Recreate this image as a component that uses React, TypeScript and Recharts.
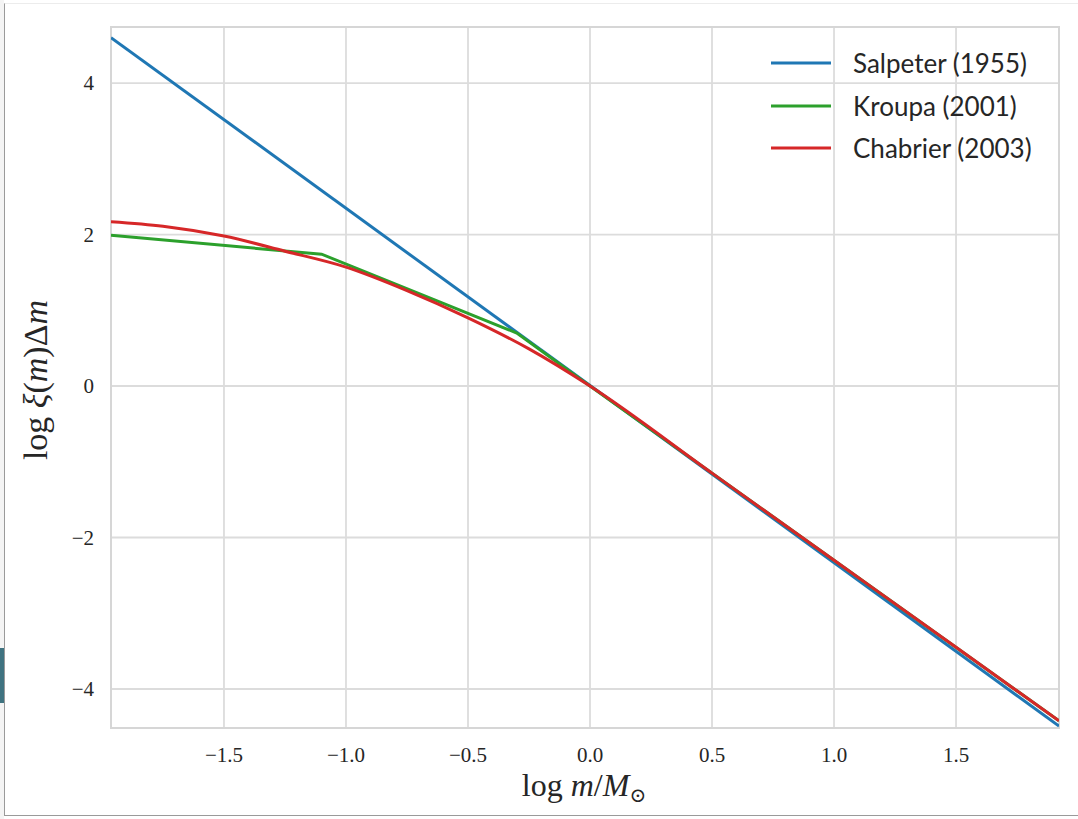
import React from "react";
import {
  LineChart,
  Line,
  XAxis,
  YAxis,
  CartesianGrid,
  Legend,
  ReferenceArea,
} from "recharts";

// axes
const xTicks = [-1.5, -1.0, -0.5, 0.0, 0.5, 1.0, 1.5];
const yTicks = [-4, -2, 0, 2, 4];
const xDomain = [-1.963, 1.922];
const yDomain = [-4.515, 4.74];

// Salpeter (1955)
const salpeterLogM = [-1.963, 1.922];
const salpeterLogXi = [4.6, -4.49];

// Kroupa (2001)
const kroupaLogM = [-1.963, -1.1, -0.3, 0.0, 1.922];
const kroupaLogXi = [1.99, 1.74, 0.7, 0.0, -4.42];

// Chabrier (2003)
const chabrierLogM = [-1.963, -1.75, -1.5, -1.25, -1.0, -0.75, -0.5, -0.25, 0.0, 0.5, 1.0, 1.5, 1.922];
const chabrierLogXi = [2.17, 2.11, 1.98, 1.78, 1.57, 1.26, 0.9, 0.49, 0.0, -1.15, -2.3, -3.45, -4.42];

const series = [
  { name: "Salpeter (1955)", color: "#1f77b4", x: salpeterLogM, y: salpeterLogXi, type: "linear" },
  { name: "Kroupa (2001)", color: "#2ca02c", x: kroupaLogM, y: kroupaLogXi, type: "linear" },
  { name: "Chabrier (2003)", color: "#d62728", x: chabrierLogM, y: chabrierLogXi, type: "monotone" },
];

const toRows = (xs: number[], ys: number[]) => xs.map((x, i) => ({ logm: x, v: ys[i] }));

const minus = (s: string) => s.replace("-", "\u2212");

const serif = "'Liberation Serif', 'DejaVu Serif', serif";
const sans = "Lato, 'Noto Sans', sans-serif";
const ink = "#262626";

const XTick = (props: any) => {
  const { x, y, payload } = props;
  return (
    <text x={x} y={y + 34} textAnchor="middle" fontFamily={serif} fontSize={21} fill={ink}>
      {minus(Number(payload.value).toFixed(1))}
    </text>
  );
};

const YTick = (props: any) => {
  const { x, y, payload } = props;
  return (
    <text x={x - 17} y={y + 7} textAnchor="end" fontFamily={serif} fontSize={21} fill={ink}>
      {minus(String(payload.value))}
    </text>
  );
};

const LegendBox = () => (
  <div style={{ fontFamily: sans, fontSize: 26, color: ink }}>
    {series.map((s) => (
      <div key={s.name} style={{ display: "flex", alignItems: "center", height: 42.5 }}>
        <svg width={60} height={6} style={{ marginRight: 22 }}>
          <line x1={0} y1={3} x2={60} y2={3} stroke={s.color} strokeWidth={3} />
        </svg>
        <span style={{ whiteSpace: "nowrap" }}>{s.name}</span>
      </div>
    ))}
  </div>
);

export default function App() {
  return (
    <div style={{ position: "absolute", left: 0, top: 0, width: 1078, height: 819, background: "#fff" }}>
      {/* page bits around the card */}
      <div style={{ position: "absolute", left: 0, top: 0, width: 4, height: 819, background: "#f4f4f4" }} />
      <div style={{ position: "absolute", left: 0, top: 648, width: 5, height: 55, background: "#3f7380" }} />
      <div
        style={{
          position: "absolute",
          left: 4,
          top: 3,
          width: 1074,
          height: 813,
          borderLeft: "1.5px solid #9a9a9a",
          borderBottom: "1.5px solid #9a9a9a",
          borderTop: "1px solid #ececec",
          boxSizing: "border-box",
          background: "#fff",
        }}
      />
      <div style={{ position: "absolute", left: 0, top: 0 }}>
        <LineChart width={1078} height={819} margin={{ top: 27, right: 19, left: 0, bottom: 0 }}>
          <CartesianGrid stroke="#dcdcdc" strokeWidth={1.8} />
          <XAxis
            type="number"
            dataKey="logm"
            domain={xDomain}
            ticks={xTicks}
            allowDataOverflow
            height={91}
            axisLine={false}
            tickLine={false}
            tickSize={0}
            tickMargin={0}
            tick={<XTick />}
          />
          <YAxis
            type="number"
            dataKey="v"
            domain={yDomain}
            ticks={yTicks}
            allowDataOverflow
            width={111}
            axisLine={false}
            tickLine={false}
            tickSize={0}
            tickMargin={0}
            tick={<YTick />}
          />
          <ReferenceArea
            x1={xDomain[0]}
            x2={xDomain[1]}
            y1={yDomain[0]}
            y2={yDomain[1]}
            fill="none"
            stroke="#d6d6d6"
            strokeWidth={2}
            ifOverflow="visible"
          />
          {series.map((s) => (
            <Line
              key={s.name}
              data={toRows(s.x, s.y)}
              dataKey="v"
              name={s.name}
              type={s.type as any}
              stroke={s.color}
              strokeWidth={3}
              dot={false}
              activeDot={false}
              isAnimationActive={false}
            />
          ))}
          <Legend
            layout="vertical"
            align="center"
            verticalAlign="middle"
            wrapperStyle={{ left: 771, top: 42, width: 300, height: 130 }}
            content={<LegendBox />}
          />
        </LineChart>
        <svg
          width={1078}
          height={819}
          style={{ position: "absolute", left: 0, top: 0, pointerEvents: "none" }}
        >
          <text x={584} y={796} textAnchor="middle" fontFamily={serif} fontSize={32} fill={ink}>
            log <tspan fontStyle="italic">m</tspan>/<tspan fontStyle="italic">M</tspan>
            <tspan fontSize={20} dy={6}>{"\u2299"}</tspan>
          </text>
          <text
            transform="translate(47, 380) rotate(-90)"
            textAnchor="middle"
            fontFamily={serif}
            fontSize={34}
            fill={ink}
          >
            log <tspan fontStyle="italic">ξ</tspan>(<tspan fontStyle="italic">m</tspan>)Δ
            <tspan fontStyle="italic">m</tspan>
          </text>
        </svg>
      </div>
    </div>
  );
}
